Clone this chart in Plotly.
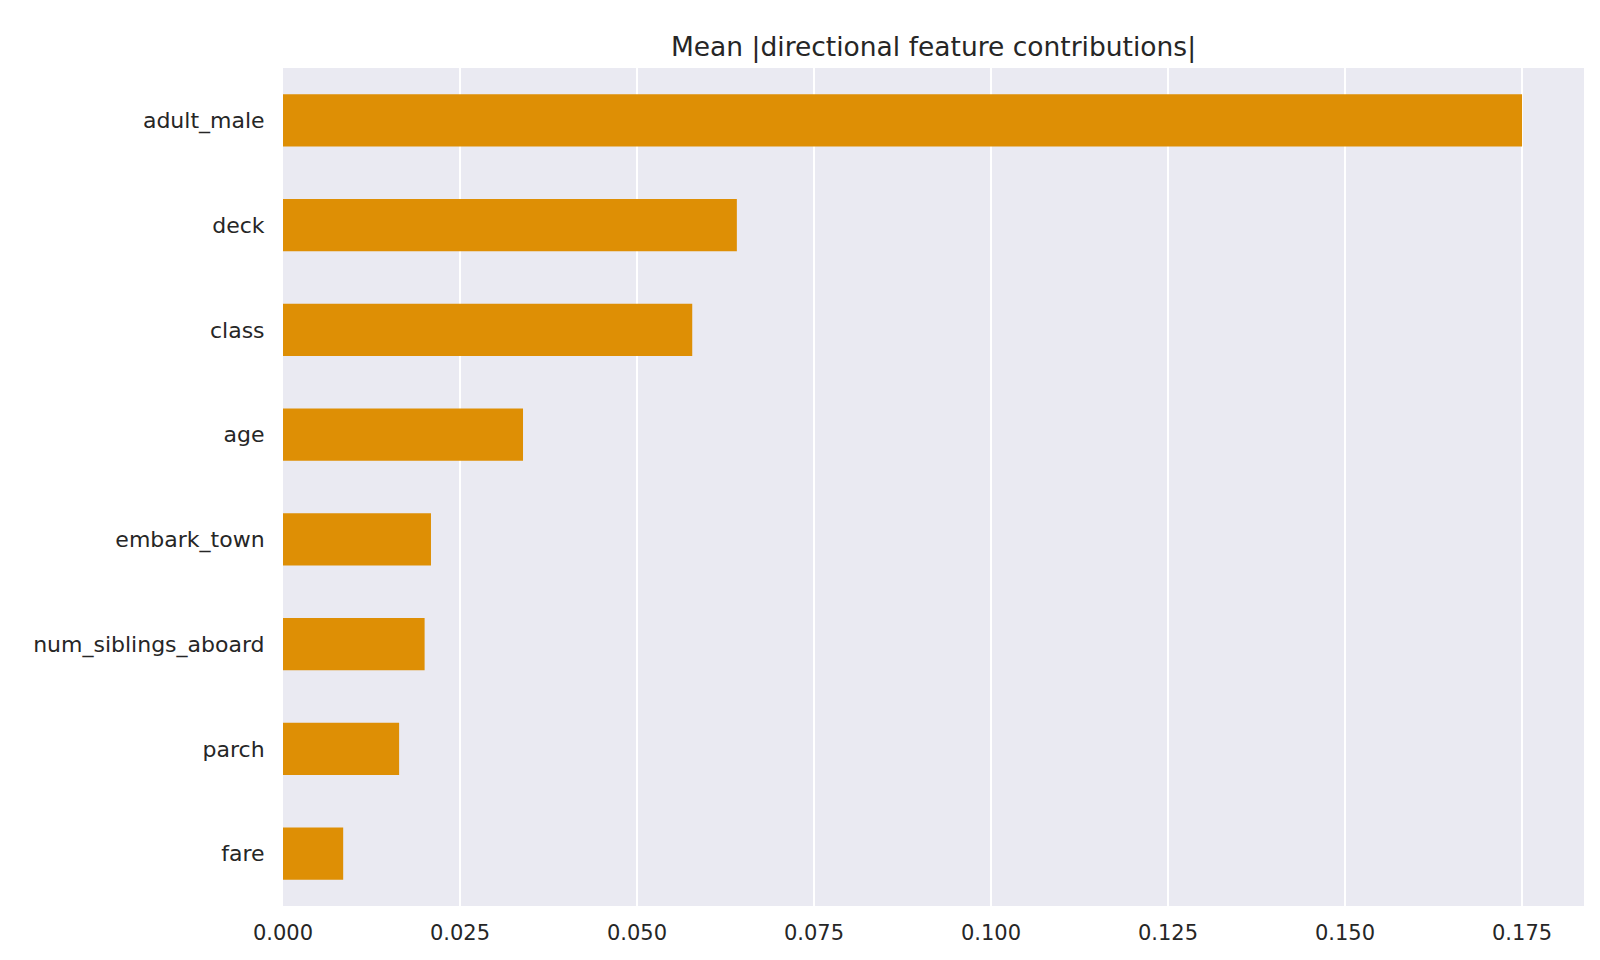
import plotly.graph_objects as go

features = ["adult_male", "deck", "class", "age", "embark_town",
            "num_siblings_aboard", "parch", "fare"]
values = [0.1750, 0.0641, 0.0578, 0.0339, 0.0209, 0.0200, 0.0164, 0.0085]
tick_vals = [0.0, 0.025, 0.05, 0.075, 0.1, 0.125, 0.15, 0.175]
tick_text = ["0.000", "0.025", "0.050", "0.075", "0.100", "0.125", "0.150", "0.175"]
title_text = "Mean |directional feature contributions|"

fig = go.Figure(go.Bar(
    x=values, y=features, orientation="h", width=0.5,
    marker=dict(color="#DE8F05", line=dict(width=0)),
))

fig.update_layout(
    width=1600, height=960,
    margin=dict(l=275, r=24, t=60, b=62),
    paper_bgcolor="white", plot_bgcolor="#EAEAF2",
    font=dict(family="DejaVu Sans", size=21, color="#262626"),
    title=dict(text=title_text, x=(275 + 1576) / 2 / 1600, xanchor="center",
               y=1 - 38.5 / 960, yanchor="middle", font=dict(size=26.5, color="#262626")),
    showlegend=False,
    bargap=0.5,
)
fig.update_xaxes(
    range=[0, max(values) * 1.05], tickvals=tick_vals, ticktext=tick_text,
    showgrid=True, gridcolor="white", gridwidth=2, zeroline=False,
    showline=False, ticks="outside", ticklen=8, tickcolor="rgba(0,0,0,0)",
    tickfont=dict(size=21),
)
fig.update_yaxes(
    categoryorder="array", categoryarray=features,
    range=[len(features) - 0.5, -0.5],
    showgrid=False, zeroline=False, showline=False,
    ticks="outside", ticklen=13, tickcolor="rgba(0,0,0,0)",
    tickfont=dict(size=22),
)

fig.write_html("out.html")
